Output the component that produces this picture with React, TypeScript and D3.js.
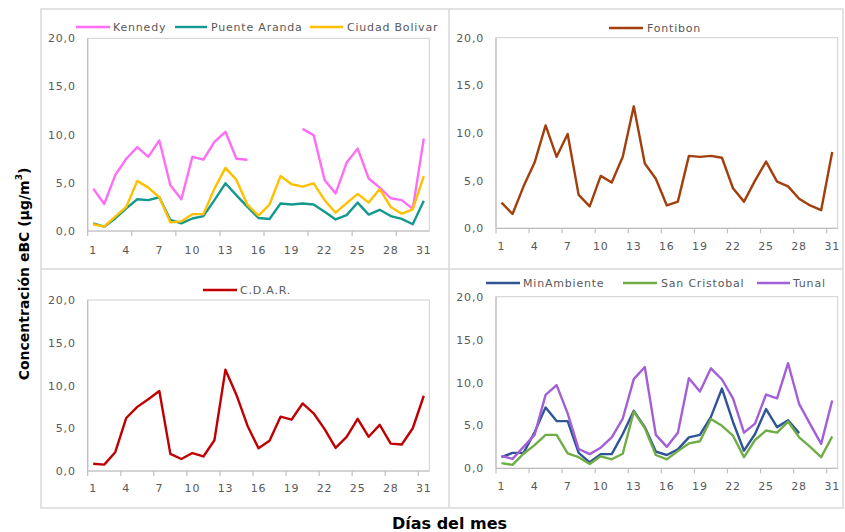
import React from "react";
import * as d3 from "d3";

const days = [1,2,3,4,5,6,7,8,9,10,11,12,13,14,15,16,17,18,19,20,21,22,23,24,25,26,27,28,29,30,31];
const yTicks = [0, 5, 10, 15, 20];

const kennedy = [4.4, 2.8, 5.8, 7.5, 8.7, 7.7, 9.4, 4.75, 3.3, 7.7, 7.4, 9.25, 10.3, 7.5, 7.4, null, null, null, null, 10.6, 9.95, 5.3, 3.9, 7.1, 8.55, 5.45, 4.5, 3.4, 3.2, 2.3, 9.6];
const puenteAranda = [0.8, 0.45, 1.3, 2.35, 3.3, 3.2, 3.5, 1.15, 0.8, 1.3, 1.55, 3.2, 4.95, 3.7, 2.5, 1.35, 1.25, 2.85, 2.75, 2.85, 2.75, 2.0, 1.2, 1.65, 2.95, 1.7, 2.2, 1.55, 1.25, 0.7, 3.15];
const ciudadBolivar = [0.7, 0.45, 1.5, 2.5, 5.2, 4.5, 3.5, 0.9, 1.0, 1.75, 1.75, 4.4, 6.55, 5.3, 2.7, 1.6, 2.75, 5.7, 4.85, 4.6, 4.95, 3.2, 1.9, 2.9, 3.85, 2.95, 4.35, 2.5, 1.8, 2.25, 5.7];
const fontibon = [2.7, 1.5, 4.4, 6.9, 10.8, 7.5, 9.9, 3.5, 2.3, 5.5, 4.8, 7.5, 12.8, 6.8, 5.2, 2.4, 2.8, 7.6, 7.5, 7.6, 7.4, 4.2, 2.8, 5.0, 7.0, 4.9, 4.4, 3.1, 2.4, 1.9, 8.0];
const cdar = [0.85, 0.75, 2.2, 6.2, 7.5, 8.4, 9.35, 2.0, 1.4, 2.1, 1.7, 3.6, 11.85, 8.9, 5.3, 2.65, 3.55, 6.35, 6.0, 7.9, 6.75, 4.9, 2.7, 4.0, 6.1, 4.0, 5.4, 3.2, 3.1, 5.0, 8.8];
const minAmbiente = [1.3, 1.8, 1.8, 4.2, 7.1, 5.5, 5.5, 1.8, 0.7, 1.65, 1.65, 4.0, 6.7, 4.8, 1.95, 1.55, 2.2, 3.6, 3.9, 6.0, 9.3, 5.4, 2.05, 4.0, 6.9, 4.8, 5.6, 4.1, null, null, null];
const sanCristobal = [0.6, 0.4, 1.7, 2.7, 3.9, 3.9, 1.75, 1.3, 0.5, 1.4, 1.05, 1.7, 6.6, 4.7, 1.55, 1.05, 2.0, 2.9, 3.15, 5.75, 4.95, 3.8, 1.3, 3.3, 4.4, 4.15, 5.45, 3.6, 2.5, 1.3, 3.7];
const tunal = [1.45, 1.1, 2.5, 3.9, 8.55, 9.7, 6.4, 2.25, 1.65, 2.4, 3.6, 5.8, 10.4, 11.8, 3.9, 2.5, 4.15, 10.5, 8.95, 11.65, 10.35, 8.15, 4.15, 5.2, 8.6, 8.15, 12.25, 7.5, 5.15, 2.85, 7.9];

const seriesNames = ["Kennedy", "Puente Aranda", "Ciudad Bolivar", "Fontibon", "C.D.A.R.", "MinAmbiente", "San Cristobal", "Tunal"];

const COLORS: Record<string, string> = {
  "Kennedy": "#ff6cf6",
  "Puente Aranda": "#14998f",
  "Ciudad Bolivar": "#ffc000",
  "Fontibon": "#a23f0c",
  "C.D.A.R.": "#c00000",
  "MinAmbiente": "#2f5597",
  "San Cristobal": "#70ad47",
  "Tunal": "#a35fd6",
};

const DATA: Record<string, (number | null)[]> = {
  "Kennedy": kennedy,
  "Puente Aranda": puenteAranda,
  "Ciudad Bolivar": ciudadBolivar,
  "Fontibon": fontibon,
  "C.D.A.R.": cdar,
  "MinAmbiente": minAmbiente,
  "San Cristobal": sanCristobal,
  "Tunal": tunal,
};

const locale = d3.formatLocale({ decimal: ",", thousands: ".", grouping: [3], currency: ["", ""] });
const fmt = locale.format(".1f");

type Panel = {
  x0: number; x1: number; y0: number; y1: number;
  tickEvery: number; labelOffset: number;
  series: string[];
  legendY: number;
  legend: { l1: number; l2: number; t: number }[];
};

const panels: Panel[] = [
  { x0: 87.7, x1: 429.3, y0: 38.3, y1: 231, tickEvery: 4, labelOffset: 23,
    series: [seriesNames[0], seriesNames[1], seriesNames[2]], legendY: 27,
    legend: [{ l1: 76, l2: 110, t: 113 }, { l1: 175, l2: 207, t: 211 }, { l1: 310, l2: 343, t: 347 }] },
  { x0: 496, x1: 837.7, y0: 37.7, y1: 228.3, tickEvery: 3, labelOffset: 21.7,
    series: [seriesNames[3]], legendY: 28,
    legend: [{ l1: 609, l2: 643, t: 647 }] },
  { x0: 87.7, x1: 429.3, y0: 300, y1: 471, tickEvery: 3, labelOffset: 20.7,
    series: [seriesNames[4]], legendY: 290,
    legend: [{ l1: 203, l2: 237, t: 240 }] },
  { x0: 496, x1: 837.7, y0: 296.7, y1: 468.3, tickEvery: 3, labelOffset: 21.7,
    series: [seriesNames[5], seriesNames[6], seriesNames[7]], legendY: 283,
    legend: [{ l1: 486, l2: 520, t: 523 }, { l1: 623, l2: 657, t: 661 }, { l1: 757, l2: 790, t: 793 }] },
];

const FONT = "DejaVu Sans, Verdana, sans-serif";
const TXT = "#595959";

function PanelView({ p }: { p: Panel }) {
  const x = d3.scaleBand<number>().domain(days).range([p.x0, p.x1]);
  const y = d3.scaleLinear().domain([0, 20]).range([p.y1, p.y0]);
  const cx = (d: number) => (x(d) as number) + x.bandwidth() / 2;
  const line = d3.line<number | null>()
    .defined((v) => v !== null)
    .x((_, i) => cx(days[i]))
    .y((v) => y(v as number));
  const tickPositions = d3.range(0, days.length + 1, p.tickEvery).map((k) => p.x0 + k * x.step());
  const labelDays = days.filter((d) => (d - 1) % 3 === 0);
  return (
    <g>
      <rect x={p.x0} y={p.y0} width={p.x1 - p.x0} height={p.y1 - p.y0} fill="none" stroke="#d0d0d0" strokeWidth={1} />
      <line x1={p.x0} x2={p.x0} y1={p.y0} y2={p.y1} stroke="#bfbfbf" strokeWidth={1.2} />
      <line x1={p.x0} x2={p.x1} y1={p.y1} y2={p.y1} stroke="#bfbfbf" strokeWidth={1.2} />
      {tickPositions.map((tx, i) => (
        <line key={i} x1={tx} x2={tx} y1={p.y1} y2={p.y1 + 5} stroke="#bfbfbf" strokeWidth={1.2} />
      ))}
      {yTicks.map((t) => (
        <text key={t} x={p.x0 - 12} y={y(t) + 4} textAnchor="end" fontFamily={FONT} fontSize={11} letterSpacing={0.8} fill={TXT}>
          {fmt(t)}
        </text>
      ))}
      {labelDays.map((d) => (
        <text key={d} x={cx(d)} y={p.y1 + p.labelOffset} textAnchor="middle" fontFamily={FONT} fontSize={11} letterSpacing={0.8} fill={TXT}>
          {String(d)}
        </text>
      ))}
      {p.series.map((s) => (
        <path key={s} d={line(DATA[s]) || ""} fill="none" stroke={COLORS[s]} strokeWidth={2.4} strokeLinejoin="round" strokeLinecap="butt" />
      ))}
      {p.series.map((s, i) => (
        <g key={"lg" + s}>
          <line x1={p.legend[i].l1} x2={p.legend[i].l2} y1={p.legendY} y2={p.legendY} stroke={COLORS[s]} strokeWidth={2.4} />
          <text x={p.legend[i].t} y={p.legendY + 4} fontFamily={FONT} fontSize={11} letterSpacing={0.8} fill={TXT}>{s}</text>
        </g>
      ))}
    </g>
  );
}

export default function App() {
  return (
    <svg width={845} height={532} style={{ position: "absolute", left: 0, top: 0, background: "#fff" }}>
      <rect x={0} y={0} width={845} height={532} fill="#fff" />
      <rect x={41} y={9} width={802} height={499} fill="none" stroke="#d9d9d9" strokeWidth={1.5} />
      <line x1={449} x2={449} y1={9} y2={508} stroke="#d9d9d9" strokeWidth={1.5} />
      <line x1={41} x2={843} y1={269} y2={269} stroke="#d9d9d9" strokeWidth={1.5} />
      {panels.map((p, i) => <PanelView key={i} p={p} />)}
      <text x={449.5} y={529} textAnchor="middle" fontFamily={FONT} fontWeight="bold" fontSize={16} fill="#000">Días del mes</text>
      <text transform="translate(23.5,274) rotate(-90)" textAnchor="middle" dominantBaseline="central" fontFamily={FONT} fontWeight="bold" fontSize={14} fill="#000">
        Concentración eBC (µg/m<tspan fontSize={9} dy={-5}>3</tspan><tspan dy={5}>)</tspan>
      </text>
    </svg>
  );
}
